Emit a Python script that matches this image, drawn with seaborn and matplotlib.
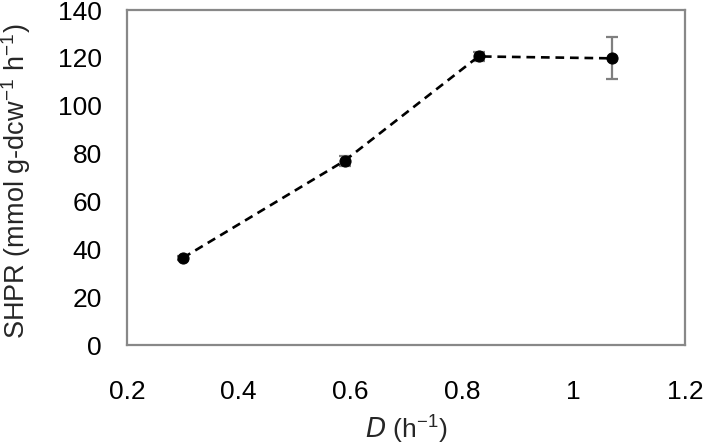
import matplotlib
matplotlib.use("Agg")
import matplotlib.pyplot as plt
import seaborn as sns
import pandas as pd

# Data
D = [0.30, 0.59, 0.83, 1.07]
shpr = [36.4, 77.0, 120.6, 119.8]
err = [1.0, 2.0, 2.0, 8.8]
xticks = [0.2, 0.4, 0.6, 0.8, 1.0, 1.2]
xticklabels = ["0.2", "0.4", "0.6", "0.8", "1", "1.2"]
yticks = [0, 20, 40, 60, 80, 100, 120, 140]

sns.set_style("white")
plt.rcParams["font.family"] = ["Liberation Sans", "DejaVu Sans"]
plt.rcParams["mathtext.default"] = "regular"

df = pd.DataFrame({"D": D, "SHPR": shpr})

fig = plt.figure(figsize=(7.08, 4.45), dpi=100)
ax = fig.add_axes([0.1794, 0.2247, 0.7881, 0.7528])

ax.errorbar(D, shpr, yerr=err, fmt="none", ecolor="#7f7f7f", elinewidth=1.6,
            capsize=4.5, capthick=1.6, zorder=2)
sns.lineplot(data=df, x="D", y="SHPR", ax=ax, color="black", linestyle=(0, (3.3, 2.2)),
             linewidth=1.9, marker="o", markersize=8, markeredgecolor="black",
             markerfacecolor="black", zorder=3)

ax.set_xlim(0.2, 1.2)
ax.set_ylim(0, 140)
ax.set_xticks(xticks)
ax.set_xticklabels(xticklabels)
ax.set_yticks(yticks)

for s in ax.spines.values():
    s.set_color("#888888")
    s.set_linewidth(1.6)
    s.set_visible(True)

ax.tick_params(axis="both", direction="out", length=6, width=1.5, color="#888888",
               labelsize=19, labelcolor="black")
ax.tick_params(axis="y", pad=12)
ax.tick_params(axis="x", pad=19)

ax.set_xlabel("$\\it{D}$ (h$^{-1}$)", fontsize=19)
ax.set_ylabel("SHPR (mmol g-dcw$^{-1}$ h$^{-1}$)", fontsize=19.5)
ax.xaxis.set_label_coords(0.5, -0.205)
ax.yaxis.set_label_coords(-0.168, 0.49)

fig.savefig("out.png", dpi=100)
